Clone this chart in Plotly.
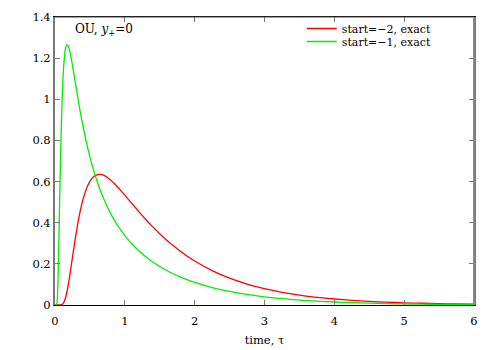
import plotly.graph_objects as go

# time grid and first-passage densities
tau = [0, 0.0125, 0.025, 0.0375, 0.05, 0.0625, 0.075, 0.0875, 0.1, 0.1125, 0.125, 0.15,
       0.175, 0.2, 0.225, 0.25, 0.275, 0.3, 0.35, 0.4, 0.45, 0.5, 0.55, 0.6, 0.65, 0.7,
       0.75, 0.8, 0.85, 0.9, 0.95, 1.0, 1.1, 1.2, 1.3, 1.4, 1.5, 1.6, 1.7, 1.8, 1.9, 2.0,
       2.25, 2.5, 2.75, 3.0, 3.25, 3.5, 3.75, 4.0, 4.25, 4.5, 4.75, 5.0, 5.25, 5.5, 5.75, 6.0]
start_m2 = [0, 0, 0, 0, 0, 0, 0.0001, 0.0007, 0.0022, 0.0057, 0.0118, 0.0343,
            0.0705, 0.1182, 0.1730, 0.2308, 0.2880, 0.3425, 0.4378, 0.5119, 0.5655, 0.6013, 0.6229, 0.6331, 0.6347, 0.6297,
            0.6198, 0.6064, 0.5903, 0.5725, 0.5536, 0.5339, 0.4938, 0.4541, 0.4159, 0.3798, 0.3462, 0.3150, 0.2863, 0.2600, 0.2359, 0.2139,
            0.1672, 0.1305, 0.1018, 0.0794, 0.0618, 0.0482, 0.0375, 0.0292, 0.0228, 0.0177, 0.0138, 0.0108, 0.0084, 0.0065, 0.0051, 0.0040]
start_m1 = [0, 0, 0.0042, 0.0644, 0.2225, 0.4351, 0.6482, 0.8320, 0.9782, 1.0869, 1.1641, 1.2467,
            1.2658, 1.2486, 1.2117, 1.1648, 1.1137, 1.0617, 0.9613, 0.8704, 0.7901, 0.7198, 0.6583, 0.6043, 0.5567, 0.5144,
            0.4768, 0.4431, 0.4127, 0.3853, 0.3603, 0.3376, 0.2976, 0.2637, 0.2349, 0.2093, 0.1874, 0.1679, 0.1508, 0.1356, 0.1221, 0.1100,
            0.0850, 0.0659, 0.0512, 0.0398, 0.0310, 0.0241, 0.0188, 0.0146, 0.0114, 0.0089, 0.0069, 0.0054, 0.0042, 0.0033, 0.0025, 0.0020]

x_ticks = [0, 1, 2, 3, 4, 5, 6]
y_ticks = [0, 0.2, 0.4, 0.6, 0.8, 1, 1.2, 1.4]

SERIF = "DejaVu Serif"
font = dict(family=SERIF, size=11.5, color="black")
leg_font = dict(family=SERIF, size=11, color="black")

fig = go.Figure()
fig.add_trace(go.Scatter(x=tau, y=start_m2, mode="lines", name="start=\u22122, exact", legend="legend",
                         line=dict(color="#ff0000", width=1.3, shape="spline", smoothing=0.8)))
fig.add_trace(go.Scatter(x=tau, y=start_m1, mode="lines", name="start=\u22121, exact", legend="legend2",
                         line=dict(color="#00ee00", width=1.3, shape="spline", smoothing=0.8)))

fig.update_xaxes(range=[0, 6], tickvals=x_ticks, ticks="inside", ticklen=5, tickcolor="#777",
                 showgrid=False, zeroline=False, showline=True, linecolor="black", linewidth=1.2,
                 mirror="ticks", tickfont=font, automargin=False, ticklabelstandoff=5,
                 title=dict(text="time, \u03c4", standoff=9, font=font))
fig.update_yaxes(range=[0, 1.4], tickvals=y_ticks, ticks="inside", ticklen=5, tickcolor="#777",
                 showgrid=False, zeroline=False, showline=True, linecolor="#777", linewidth=2,
                 mirror="ticks", tickfont=font, automargin=False)

# top and right frame edges drawn separately (different shades in the reference)
fig.add_shape(type="line", xref="paper", yref="paper", x0=0, x1=1, y0=1, y1=1,
              line=dict(color="#444", width=1))
fig.add_shape(type="line", xref="paper", yref="paper", x0=1, x1=1, y0=0, y1=1,
              line=dict(color="#888", width=2))

fig.add_annotation(text="OU, <i>y</i><sub>+</sub>=0", xref="paper", yref="paper",
                   x=0.042, y=0.955, xanchor="left", yanchor="middle", showarrow=False,
                   font=dict(family=SERIF, size=12, color="black"))

# one legend per entry so the rows can sit as tight as in the reference
leg = dict(xanchor="left", yanchor="middle", bgcolor="rgba(0,0,0,0)", font=leg_font)
fig.update_layout(
    width=500, height=350,
    margin=dict(l=55, r=26, t=17, b=45),
    plot_bgcolor="white", paper_bgcolor="white",
    font=font,
    showlegend=True,
    legend=dict(x=0.589, y=0.960, **leg),
    legend2=dict(x=0.589, y=0.915, **leg),
)

fig.write_html("out.html", config={"displayModeBar": False},
               post_script="document.body.style.margin='0';")
